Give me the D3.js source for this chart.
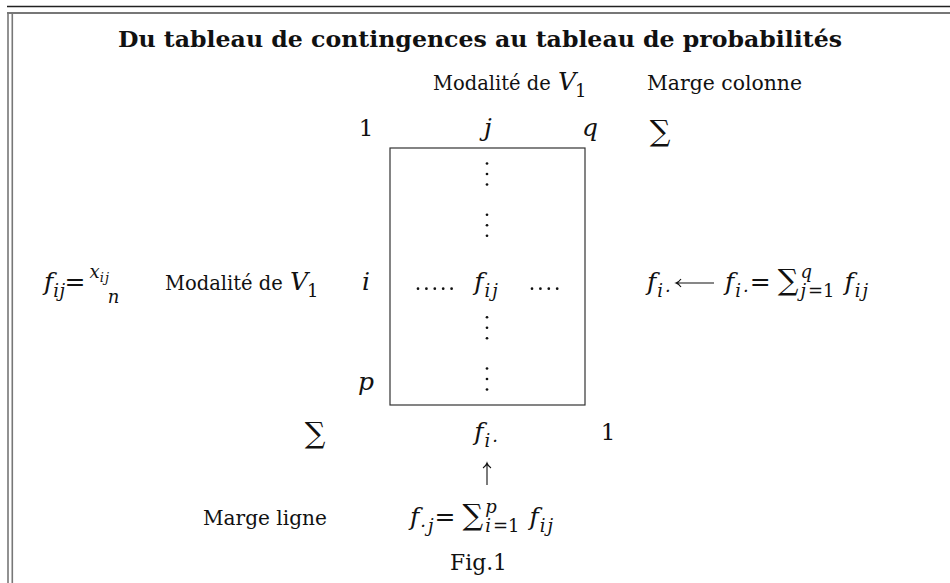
<!DOCTYPE html>
<html>
<head>
<meta charset="utf-8">
<script src="https://cdn.jsdelivr.net/npm/d3@7"></script>
<style>
  body { margin: 0; background: #fff; }
  text { font-family: "DejaVu Serif", serif; fill: #111; }
</style>
</head>
<body>
<div id="chart"></div>
<script>
// ---- content ----
const titleText = "Du tableau de contingences au tableau de probabilités";
const varLabel = ["Modalité de", "V", "1"];
const colIndex = ["1", "j", "q"];
const rowIndex = ["i", "p"];
const marginLabels = ["Marge colonne", "Marge ligne"];
const boxRows = [0, 1, 2, 3, 4];        // row 2 carries f_ij, the others vertical dots
const dotsPerGroup = [0, 1, 2];
const rowDots = [5, 4];                 // "....." left of f_ij, "...." right of it
const caption = "Fig.1";

const W = 950, H = 583, FS = 21, MS = 25, SS = 18;

const svg = d3.select("#chart").append("svg")
    .attr("width", W)
    .attr("height", H);

// frame lines (double rule on top and left)
svg.append("line").attr("x1", 7).attr("x2", W).attr("y1", 6.5).attr("y2", 6.5)
    .attr("stroke", "#222").attr("stroke-width", 1.3);
svg.append("line").attr("x1", 7).attr("x2", W).attr("y1", 13).attr("y2", 13)
    .attr("stroke", "#777").attr("stroke-width", 2);
svg.append("line").attr("x1", 8).attr("x2", 8).attr("y1", 12).attr("y2", H)
    .attr("stroke", "#777").attr("stroke-width", 1.6);
svg.append("line").attr("x1", 12.3).attr("x2", 12.3).attr("y1", 12).attr("y2", H)
    .attr("stroke", "#777").attr("stroke-width", 1.6);

// title
svg.append("text")
    .attr("x", 118).attr("y", 47)
    .attr("font-size", 22).attr("font-weight", "bold")
    .attr("textLength", 724).attr("lengthAdjust", "spacingAndGlyphs")
    .text(titleText);

// inline maths : parts = {t, it, sub, sup, size, dx, under, ls}
function math(x, y, parts, anchor) {
  const t = svg.append("text").attr("x", x).attr("y", y)
      .attr("font-size", MS).attr("text-anchor", anchor || "start");
  let shift = 0, lastW = 0;
  parts.forEach(p => {
    const s = p.sub ? 7 : p.sup ? -12 : 0;
    const small = p.sub || p.sup;
    const ts = t.append("tspan")
        .attr("dy", s - shift)
        .attr("font-size", p.size || (small ? SS : MS))
        .attr("font-style", p.it ? "italic" : "normal")
        .text(p.t);
    if (small && p.it) ts.attr("letter-spacing", p.ls != null ? p.ls : 2);
    let dx = p.dx || 0;
    if (p.under) dx -= lastW;          // stack below the previous superscript
    if (dx) ts.attr("dx", dx);
    lastW = ts.node().getComputedTextLength();
    shift = s;
  });
  return t;
}

// plain label, font size fitted so that its natural width is len
function label(x, y, txt, len) {
  const t = svg.append("text").attr("x", x).attr("y", y)
      .attr("font-size", FS).text(txt);
  const w = t.node().getComputedTextLength();
  t.attr("font-size", FS * len / w);
  return t;
}

function varLab(x, y) {
  label(x, y, varLabel[0], 118);
  math(x + 125, y, [{t: varLabel[1], it: true}, {t: varLabel[2], sub: true, dx: -1}]);
}

// geometry of the probability box
const box = {x0: 390, x1: 585, y0: 148, y1: 405};
const colX = d3.scaleOrdinal().domain(colIndex).range([366, 488, 590]);
const rowY = d3.scalePoint().domain(boxRows).range([174, 379]);
const midY = 290;      // baseline of the i row
const xc = 487;        // centre column (j)

// top labels
varLab(433, 90);
label(647, 90, marginLabels[0], 155);

// column indices
svg.selectAll("text.col").data(colIndex).enter().append("text")
    .attr("class", "col")
    .attr("x", d => colX(d)).attr("y", 136)
    .attr("font-size", d => d === "1" ? 23 : MS).attr("text-anchor", "middle")
    .attr("font-style", d => d === "1" ? "normal" : "italic")
    .text(d => d);
svg.append("text").attr("x", 660).attr("y", 141).attr("font-size", 29)
    .attr("text-anchor", "middle").text("∑");

// box
svg.append("rect")
    .attr("x", box.x0).attr("y", box.y0)
    .attr("width", box.x1 - box.x0).attr("height", box.y1 - box.y0)
    .attr("fill", "none").attr("stroke", "#333").attr("stroke-width", 1.2);

// vertical dots
const vg = svg.selectAll("g.vdots").data(boxRows.filter(r => r !== 2)).enter()
    .append("g").attr("class", "vdots");
vg.selectAll("circle").data(r => dotsPerGroup.map(k => ({r, k}))).enter()
    .append("circle")
    .attr("cx", xc)
    .attr("cy", d => rowY(d.r) + (d.k - 1) * 10.5)
    .attr("r", 1.35).attr("fill", "#111");

// horizontal dots
const hStart = [418, 532];
rowDots.forEach((n, g) => {
  svg.selectAll(null).data(d3.range(n)).enter().append("circle")
      .attr("cx", i => hStart[g] + i * 8.4)
      .attr("cy", midY - 1.3)
      .attr("r", 1.35).attr("fill", "#111");
});

// centre f_ij
math(xc, midY, [{t: "f", it: true}, {t: "ij", it: true, sub: true, dx: 1}], "middle");

// row indices
svg.selectAll("text.row").data(rowIndex).enter().append("text")
    .attr("class", "row")
    .attr("x", 366).attr("y", (d, i) => i === 0 ? midY : 390)
    .attr("font-size", MS).attr("text-anchor", "middle").attr("font-style", "italic")
    .text(d => d);

// left: f_ij = x_ij / n  and label
const lhs = math(44, midY, [{t: "f", it: true}, {t: "ij", it: true, sub: true, ls: 0.5}, {t: "=", dx: -1}]);
const fracX = lhs.node().getBBox().x + lhs.node().getBBox().width + 4;
svg.append("text").attr("x", fracX).attr("y", 278).attr("font-size", 18)
    .attr("font-style", "italic")
    .call(t => {
      t.append("tspan").text("x");
      t.append("tspan").attr("dy", 4).attr("font-size", 13).attr("letter-spacing", 1).text("ij");
    });
svg.append("text").attr("x", fracX + 24).attr("y", 303).attr("font-size", 18)
    .attr("font-style", "italic").attr("text-anchor", "middle").text("n");
varLab(165, midY);

// right: f_i. <-- f_i. = sum_{j=1}^q f_ij
math(647, midY, [{t: "f", it: true}, {t: "i·", it: true, sub: true, dx: 1}]);
const arrowL = d3.path();
arrowL.moveTo(714, midY - 7); arrowL.lineTo(676, midY - 7);
arrowL.moveTo(681, midY - 11); arrowL.quadraticCurveTo(679, midY - 8, 676, midY - 7);
arrowL.quadraticCurveTo(679, midY - 6, 681, midY - 3);
svg.append("path").attr("d", arrowL.toString())
    .attr("fill", "none").attr("stroke", "#111").attr("stroke-width", 1.1);
math(725, midY, [
  {t: "f", it: true}, {t: "i·", it: true, sub: true, dx: 1},
  {t: "=", dx: -1},
  {t: "∑", size: 29, dx: 7},
  {t: "q", it: true, sup: true, dx: 2},
  {t: "j", it: true, sub: true, under: true}, {t: "=1", sub: true},
  {t: "f", it: true, dx: 10}, {t: "ij", it: true, sub: true, dx: 1}
]);

// total row
svg.append("text").attr("x", 315).attr("y", 443).attr("font-size", 29)
    .attr("text-anchor", "middle").text("∑");
math(xc, 440, [{t: "f", it: true}, {t: "i·", it: true, sub: true, dx: 1}], "middle");
svg.append("text").attr("x", 608).attr("y", 440).attr("font-size", 23)
    .attr("text-anchor", "middle").text("1");

// arrow up
const arrowU = d3.path();
arrowU.moveTo(xc, 485); arrowU.lineTo(xc, 463);
arrowU.moveTo(xc - 4, 468); arrowU.quadraticCurveTo(xc - 1, 466, xc, 463);
arrowU.quadraticCurveTo(xc + 1, 466, xc + 4, 468);
svg.append("path").attr("d", arrowU.toString())
    .attr("fill", "none").attr("stroke", "#111").attr("stroke-width", 1.1);

// bottom
label(203, 525, marginLabels[1], 124);
math(410, 525, [
  {t: "f", it: true}, {t: "·j", it: true, sub: true, dx: 1},
  {t: "=", dx: -1},
  {t: "∑", size: 29, dx: 7},
  {t: "p", it: true, sup: true, dx: 2},
  {t: "i", it: true, sub: true, under: true}, {t: "=1", sub: true},
  {t: "f", it: true, dx: 10}, {t: "ij", it: true, sub: true, dx: 1}
]);
label(450, 570, caption, 57);
</script>
</body>
</html>
